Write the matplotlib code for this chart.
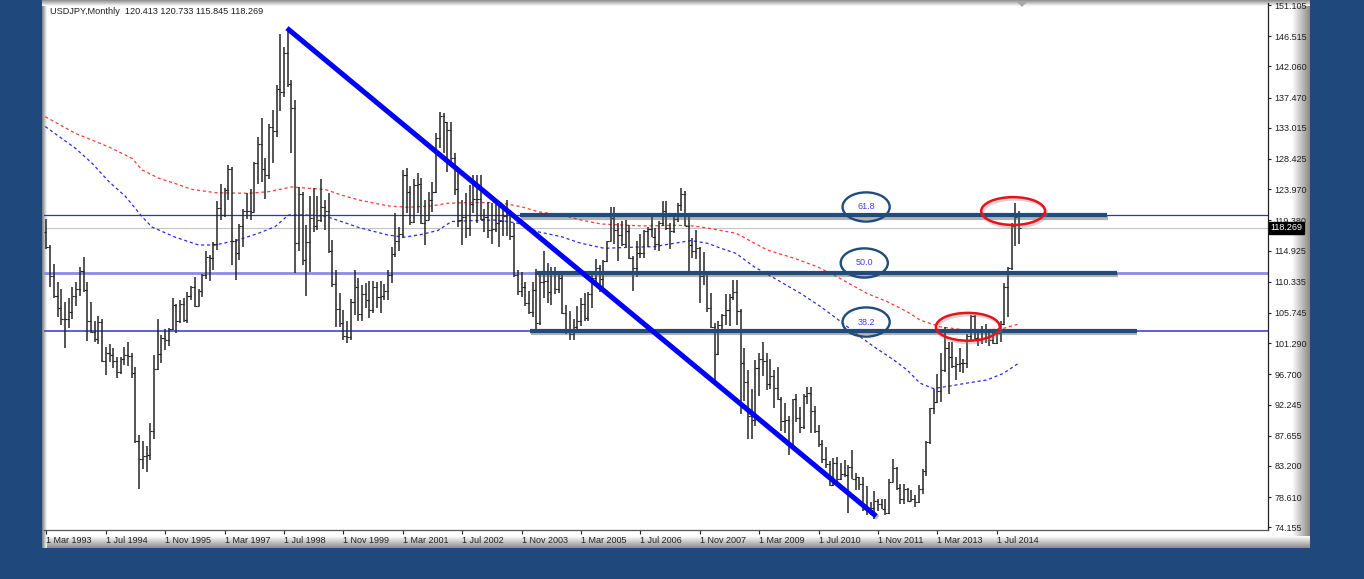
import numpy as np
import matplotlib
matplotlib.use('Agg')
import matplotlib.pyplot as plt
import matplotlib.colors as mcolors
import matplotlib.patheffects as pe
from matplotlib.patches import Ellipse, Rectangle, Polygon
from matplotlib.transforms import blended_transform_factory, offset_copy

plt.rcParams['font.family'] = ['Liberation Sans', 'DejaVu Sans']

# ---------------- DATA (USDJPY monthly, Mar 1993 .. Jan 2015) ----------------
opens = [
    117.6, 115.4, 111.2, 108.3, 106.5, 104.8, 104.8, 105.9, 108.3, 109.2,                # 1993 Mar-Dec
    111.9, 109.1, 104.6, 102.9, 101.9, 104.4, 98.6, 99.9, 99.6, 98.6, 97.0, 98.9,         # 1994
    99.6, 99.4, 96.9, 86.9, 84.2, 84.6, 84.8, 88.4, 97.5, 99.7, 102.0, 101.8,             # 1995
    103.3, 106.9, 104.6, 107.1, 104.7, 108.3, 109.5, 106.8, 108.9, 111.4, 114.0, 113.9,   # 1996
    115.9, 121.2, 120.2, 123.9, 127.0, 116.3, 114.6, 118.5, 120.8, 120.7, 120.6, 127.9,   # 1997
    130.6, 127.0, 126.1, 133.2, 132.6, 138.7, 138.3, 144.0, 139.5, 135.9, 116.0, 123.3,   # 1998
    113.6, 116.2, 119.7, 118.5, 119.4, 121.4, 120.8, 114.8, 110.0, 106.3, 104.3, 102.3,   # 1999
    102.2, 107.3, 109.6, 105.6, 108.5, 107.7, 106.1, 109.5, 108.1, 108.2, 108.9, 111.3,   # 2000
    114.4, 116.4, 117.4, 126.0, 123.6, 119.2, 124.6, 124.8, 119.0, 119.4, 122.4, 123.5,   # 2001
    131.5, 134.7, 133.8, 132.7, 128.5, 124.0, 119.5, 119.8, 118.3, 121.8, 122.5, 122.5,   # 2002
    119.6, 119.9, 118.0, 118.1, 119.0, 119.3, 120.0, 120.4, 117.0, 111.4, 109.0, 109.6,   # 2003
    107.2, 105.9, 109.1, 104.2, 110.3, 110.4, 108.8, 111.6, 109.2, 110.9, 105.8, 103.1,   # 2004
    102.6, 103.6, 104.5, 107.1, 105.0, 108.5, 110.9, 112.3, 110.8, 113.4, 116.4, 119.7,   # 2005
    117.9, 117.2, 115.9, 117.8, 113.9, 112.4, 114.6, 114.6, 117.8, 118.1, 116.9, 115.9,   # 2006
    119.0, 120.7, 118.3, 117.8, 119.6, 121.7, 123.2, 118.6, 115.8, 114.9, 115.3, 111.2,   # 2007
    111.7, 106.4, 103.7, 99.7, 104.0, 105.5, 106.2, 108.1, 108.8, 106.0, 98.4, 95.5,      # 2008
    90.6, 89.9, 97.6, 98.9, 98.6, 95.3, 96.4, 94.7, 93.0, 89.8, 90.0, 86.3,               # 2009
    93.0, 90.3, 88.9, 93.5, 94.0, 91.3, 88.4, 86.5, 84.2, 83.5, 80.4, 83.7,               # 2010
    81.2, 82.0, 81.8, 83.1, 81.2, 81.5, 80.5, 76.8, 76.7, 77.0, 78.1, 77.6,               # 2011
    76.9, 76.3, 80.9, 82.9, 80.0, 78.3, 79.8, 78.1, 78.4, 77.9, 79.8, 82.5,               # 2012
    86.7, 91.7, 92.6, 94.2, 97.4, 100.5, 99.2, 97.9, 98.2, 98.3, 98.4, 102.4,             # 2013
    105.3, 102.0, 101.8, 103.2, 102.2, 101.8, 101.3, 102.8, 104.1, 109.6, 112.3, 118.6,   # 2014
    120.413,                                                                              # 2015 Jan
]
highs = [
    119.6, 115.8, 112.9, 110.3, 109.2, 107.4, 108.0, 109.6, 110.3, 112.5,
    114.0, 110.3, 107.4, 104.5, 105.3, 104.9, 100.7, 101.2, 100.5, 99.2, 99.2, 100.7,
    101.5, 99.8, 97.8, 87.8, 86.8, 86.2, 89.5, 99.6, 104.8, 102.5, 103.3, 103.5,
    107.9, 107.0, 107.6, 107.9, 108.8, 109.7, 111.1, 109.2, 111.5, 114.9, 114.3, 116.2,
    122.2, 124.7, 124.2, 127.5, 127.2, 116.7, 118.8, 121.0, 123.4, 124.0, 128.0, 131.6,
    134.5, 128.6, 133.6, 135.6, 139.3, 146.8, 144.9, 147.7, 140.1, 137.1, 124.3, 123.6,
    118.7, 122.9, 124.2, 122.9, 125.4, 122.4, 123.4, 116.5, 112.1, 108.7, 106.2, 104.5,
    107.8, 112.0, 110.9, 109.8, 110.2, 110.5, 110.5, 110.3, 110.5, 110.0, 112.0, 115.5,
    120.5, 118.4, 126.8, 127.1, 124.4, 125.4, 126.4, 125.6, 122.4, 123.6, 125.1, 132.3,
    135.4, 135.2, 133.9, 133.9, 129.3, 127.3, 122.4, 123.4, 124.6, 126.1, 126.1, 126.1,
    121.0, 122.1, 121.9, 121.9, 121.5, 120.9, 122.4, 120.9, 119.0, 112.1, 111.8, 110.3,
    108.9, 110.3, 112.2, 111.8, 114.9, 113.1, 112.5, 112.5, 111.7, 111.8, 106.9, 106.0,
    104.9, 106.7, 107.9, 108.7, 108.8, 111.3, 113.7, 112.8, 113.6, 116.4, 121.4, 121.4,
    119.0, 119.3, 119.5, 118.7, 114.2, 116.4, 117.4, 118.0, 118.4, 119.9, 118.3, 119.3,
    122.2, 122.2, 119.0, 120.0, 122.0, 124.1, 123.7, 119.8, 116.8, 117.9, 115.4, 114.7,
    111.9, 108.7, 104.2, 104.6, 105.6, 108.6, 108.6, 110.6, 110.6, 106.3, 100.5, 97.3,
    94.6, 98.8, 99.8, 101.4, 99.8, 98.9, 97.3, 97.8, 93.4, 92.4, 90.5, 93.1,
    93.8, 91.9, 93.8, 94.8, 94.9, 92.0, 89.2, 87.0, 86.0, 83.9, 84.4, 84.5,
    83.7, 84.0, 83.3, 85.5, 82.2, 81.6, 81.5, 80.2, 77.9, 79.5, 78.3, 78.3,
    78.3, 81.2, 84.2, 83.0, 80.5, 80.6, 80.0, 79.6, 78.9, 80.4, 82.8, 86.8,
    91.8, 94.5, 96.7, 99.9, 103.7, 101.5, 101.5, 99.2, 100.6, 99.0, 102.6, 105.4,
    105.4, 103.0, 103.8, 104.1, 103.0, 102.8, 103.1, 104.5, 110.1, 112.5, 119.0, 121.9,
    120.733,
]
lows = [
    115.1, 109.6, 108.0, 105.2, 104.0, 100.5, 103.5, 104.9, 106.7, 108.3,
    108.8, 101.6, 102.8, 101.4, 101.2, 98.5, 96.6, 98.5, 97.6, 96.2, 96.8, 98.1,
    97.9, 96.2, 86.6, 79.8, 82.7, 82.3, 84.0, 87.2, 97.3, 98.4, 100.3, 100.8,
    103.2, 102.8, 104.2, 104.4, 104.2, 107.7, 106.6, 106.8, 108.1, 110.8, 110.5, 112.1,
    115.0, 119.4, 119.8, 122.4, 112.8, 110.6, 113.5, 115.5, 119.6, 119.5, 120.6, 124.8,
    125.1, 122.5, 125.5, 127.8, 131.7, 135.5, 137.5, 139.0, 129.3, 111.6, 114.8, 112.8,
    108.3, 111.8, 117.6, 118.0, 119.2, 118.0, 114.6, 109.6, 103.7, 103.7, 101.7, 101.3,
    101.8, 105.5, 104.5, 104.6, 106.5, 105.0, 105.8, 106.5, 105.8, 107.6, 107.6, 110.2,
    114.0, 114.8, 116.8, 120.5, 118.7, 119.0, 120.5, 118.9, 115.8, 119.4, 120.6, 123.4,
    130.0, 129.3, 126.5, 127.3, 123.1, 118.4, 115.8, 116.8, 117.0, 120.5, 119.0, 119.5,
    117.7, 116.8, 115.9, 117.6, 115.5, 117.0, 117.0, 116.5, 111.1, 108.4, 108.1, 106.8,
    105.6, 105.2, 103.4, 103.9, 108.0, 107.2, 106.9, 108.5, 108.7, 105.6, 102.6, 101.8,
    101.7, 103.3, 103.8, 104.6, 104.5, 106.5, 110.0, 108.8, 109.1, 113.3, 116.3, 115.9,
    113.4, 115.6, 115.5, 113.7, 108.9, 111.0, 113.8, 113.9, 115.4, 116.9, 115.0, 114.8,
    118.5, 118.0, 115.2, 117.5, 119.2, 120.7, 118.5, 111.6, 113.8, 113.7, 107.2, 109.9,
    105.9, 103.5, 95.8, 99.5, 102.8, 103.9, 103.8, 107.7, 104.0, 90.9, 92.7, 87.1,
    87.1, 89.1, 93.5, 96.5, 94.4, 94.5, 91.7, 92.9, 88.3, 88.0, 84.8, 86.3,
    89.7, 88.1, 88.6, 92.3, 88.0, 88.1, 86.0, 83.6, 82.9, 80.3, 80.2, 80.9,
    81.1, 81.5, 76.3, 81.3, 79.6, 79.7, 76.6, 75.9, 75.9, 75.4, 76.6, 76.9,
    76.0, 76.1, 80.9, 79.6, 77.6, 77.6, 77.9, 78.0, 77.1, 77.8, 79.0, 81.7,
    86.5, 90.9, 92.5, 92.6, 97.0, 93.8, 97.6, 95.8, 97.0, 96.9, 97.6, 101.6,
    101.8, 100.8, 101.2, 101.3, 100.8, 101.1, 101.1, 101.5, 104.0, 105.2, 112.0, 115.6,
    115.845,
]
closes = [
    115.4, 111.2, 108.3, 106.5, 104.8, 104.8, 105.9, 108.3, 109.2, 111.9,
    109.1, 104.6, 102.9, 101.9, 104.4, 98.6, 99.9, 99.6, 98.6, 97.0, 98.9, 99.6,
    99.4, 96.9, 86.9, 84.2, 84.6, 84.8, 88.4, 97.5, 99.7, 102.0, 101.8, 103.3,
    106.9, 104.6, 107.1, 104.7, 108.3, 109.5, 106.8, 108.9, 111.4, 114.0, 113.9, 115.9,
    121.2, 120.2, 123.9, 127.0, 116.3, 114.6, 118.5, 120.8, 120.7, 120.6, 127.9, 130.6,
    127.0, 126.1, 133.2, 132.6, 138.7, 138.3, 144.0, 139.5, 135.9, 116.0, 123.3, 113.6,
    116.2, 119.7, 118.5, 119.4, 121.4, 120.8, 114.8, 110.0, 106.3, 104.3, 102.3, 102.2,
    107.3, 109.6, 105.6, 108.5, 107.7, 106.1, 109.5, 108.1, 108.2, 108.9, 111.3, 114.4,
    116.4, 117.4, 126.0, 123.6, 119.2, 124.6, 124.8, 119.0, 119.4, 122.4, 123.5, 131.5,
    134.7, 133.8, 132.7, 128.5, 124.0, 119.5, 119.8, 118.3, 121.8, 122.5, 122.5, 119.6,
    119.9, 118.0, 118.1, 119.0, 119.3, 120.0, 120.4, 117.0, 111.4, 109.0, 109.6, 107.2,
    105.9, 109.1, 104.2, 110.3, 110.4, 108.8, 111.6, 109.2, 110.9, 105.8, 103.1, 102.6,
    103.6, 104.5, 107.1, 105.0, 108.5, 110.9, 112.3, 110.8, 113.4, 116.4, 119.7, 117.9,
    117.2, 115.9, 117.8, 113.9, 112.4, 114.6, 114.6, 117.8, 118.1, 116.9, 115.9, 119.0,
    120.7, 118.3, 117.8, 119.6, 121.7, 123.2, 118.6, 115.8, 114.9, 115.3, 111.2, 111.7,
    106.4, 103.7, 99.7, 104.0, 105.5, 106.2, 108.1, 108.8, 106.0, 98.4, 95.5, 90.6,
    89.9, 97.6, 98.9, 98.6, 95.3, 96.4, 94.7, 93.0, 89.8, 90.0, 86.3, 93.0,
    90.3, 88.9, 93.5, 94.0, 91.3, 88.4, 86.5, 84.2, 83.5, 80.4, 83.7, 81.2,
    82.0, 81.8, 83.1, 81.2, 81.5, 80.5, 76.8, 76.7, 77.0, 78.1, 77.6, 76.9,
    76.3, 80.9, 82.9, 80.0, 78.3, 79.8, 78.1, 78.4, 77.9, 79.8, 82.5, 86.7,
    91.7, 92.6, 94.2, 97.4, 100.5, 99.2, 97.9, 98.2, 98.3, 98.4, 102.4, 105.3,
    102.0, 101.8, 103.2, 102.2, 101.8, 101.3, 102.8, 104.1, 109.6, 112.3, 118.6, 119.8,
    118.269,
]

# Moving averages (month index, price)
red_ma_idx = [-0.3, 7.8, 16.8, 23.1, 25.8, 30.2, 34.7, 39.2, 45.5, 54.4, 59.8, 66.1, 70.5, 75.0,
              79.5, 84.0, 92.1, 97.4, 103.7, 108.2, 114.5, 121.6, 127.9, 132.4, 138.7, 144.0,
              149.4, 156.6, 161.0, 169.1, 174.5, 179.0, 185.8, 194.2, 201.4, 207.6, 212.2,
              221.1, 226.5, 231.9, 235.3, 240.7, 247.9, 253.3, 257.8, 261.8]
red_ma_val = [134.65, 132.2, 130.2, 128.5, 126.8, 125.6, 124.8, 123.95, 123.45, 123.36, 123.6,
              124.3, 124.1, 123.95, 123.1, 122.4, 121.5, 121.3, 121.5, 121.9, 122.0, 122.0,
              121.4, 120.65, 120.17, 119.43, 118.84, 118.65, 118.55, 118.65, 118.55, 118.15,
              117.47, 115.0, 113.8, 112.55, 111.3, 108.6, 107.4, 105.9, 104.7, 103.7, 103.2,
              103.2, 103.47, 104.1]
blue_ma_idx = [-0.3, 7.8, 12.3, 16.8, 21.3, 25.8, 28.4, 34.7, 41.0, 45.5, 51.7, 57.1, 61.6, 65.2,
               69.7, 75.0, 79.5, 84.0, 92.1, 96.5, 101.0, 105.5, 109.1, 114.5, 121.6, 127.0,
               132.4, 138.7, 144.0, 150.3, 156.6, 163.7, 169.1, 173.6, 178.1, 181.7, 185.8,
               190.6, 196.9, 203.2, 208.6, 214.0, 219.3, 222.9, 228.3, 231.9, 235.3, 238.9,
               243.4, 247.9, 253.3, 257.8, 261.8]
blue_ma_val = [133.2, 130.0, 127.8, 125.1, 122.9, 119.9, 118.4, 116.9, 115.75, 115.75, 116.5,
               117.47, 118.45, 120.17, 120.17, 120.02, 119.2, 118.35, 117.2, 116.9, 117.3, 117.9,
               119.2, 119.33, 119.43, 118.95, 117.7, 116.97, 116.0, 115.26, 115.4, 115.5, 116.0,
               116.4, 116.0, 115.26, 114.5, 112.55, 110.6, 108.6, 106.65, 104.45, 102.2, 100.76,
               98.8, 97.3, 95.4, 94.6, 94.97, 95.4, 95.86, 96.84, 98.3]

xtick_idx = [0, 16, 32, 48, 64, 80, 96, 112, 128, 144, 160, 176, 192, 208, 224, 240, 256]
xtick_labels = ['1 Mar 1993', '1 Jul 1994', '1 Nov 1995', '1 Mar 1997', '1 Jul 1998',
                '1 Nov 1999', '1 Mar 2001', '1 Jul 2002', '1 Nov 2003', '1 Mar 2005',
                '1 Jul 2006', '1 Nov 2007', '1 Mar 2009', '1 Jul 2010', '1 Nov 2011',
                '1 Mar 2013', '1 Jul 2014']
ytick_labels = ['151.105', '146.515', '142.060', '137.470', '133.015', '128.425', '123.970',
                '119.380', '114.925', '110.335', '105.745', '101.290', '96.700', '92.245',
                '87.655', '83.200', '78.610', '74.155']

# Fibonacci retracement (Aug 1998 high -> Oct 2011 low)
fib_high = 147.66
fib_low = 75.57
fib_levels = [0.382, 0.5, 0.618]
fib_texts = ['38.2', '50.0', '61.8']
fib_line_colors = ['#4646c8', '#8c8ce6', '#2e2ed2']
fib_line_widths = [1.2, 2.0, 0.9]
# Hand drawn annotation segments (start/end month index) for each fib level
seg_start = [130.3, 132.1, 127.6]
seg_end = [293.7, 288.4, 285.7]
label_idx = [220.8, 220.3, 220.8]
label_price = [104.4, 113.1, 121.35]

trend_idx = [64.8, 223.5]
trend_price = [147.7, 75.8]

red_ell_idx = [248.2, 260.4]
red_ell_price = [103.7, 120.75]

header = 'USDJPY,Monthly  120.413 120.733 115.845 118.269'
last_price = 118.269

# ---------------- FIGURE ----------------
W, H = 1364, 579
fig = plt.figure(figsize=(W / 100, H / 100), dpi=100)
BG = '#1f497d'
fig.patch.set_facecolor(BG)

bg = fig.add_axes([0, 0, 1, 1])
bg.set_axis_off()
bg.set_zorder(0)


def grad(x0, x1, y0, y1, c0, c1, horizontal=True, z=2):
    t = np.linspace(0, 1, 64)
    a = np.array(mcolors.to_rgb(c0))
    b = np.array(mcolors.to_rgb(c1))
    arr = a + (b - a) * t[:, None]
    img = arr[None, :, :] if horizontal else arr[:, None, :]
    bg.imshow(img, extent=(x0, x1, y1, y0), aspect='auto', interpolation='bilinear', zorder=z)


bg.add_patch(Rectangle((0, 0), W, H, fc=BG, ec='none', zorder=0))
bg.add_patch(Rectangle((42, 0), 1268, 548, fc='white', ec='none', zorder=1))
grad(1292, 1310, 0, 548, '#ffffff', '#8a8a8a', True)      # right bevel
grad(42, 1310, 536, 548, '#ffffff', '#8a8a8a', False)     # bottom bevel
grad(42, 47, 0, 548, '#7a7a7a', '#ffffff', True)          # left bevel
grad(42, 1310, 0, 6, '#8a8a8a', '#ffffff', False)         # top bevel
bg.add_patch(Polygon([[1017, 2], [1027, 2], [1022, 7]], closed=True, fc='#a8a8a8', ec='none', zorder=3))
bg.set_xlim(0, W)
bg.set_ylim(H, 0)

# chart axes
ax = fig.add_axes([44 / W, (H - 530) / H, (1268 - 44) / W, (530 - 3) / H])
ax.set_zorder(1)
ax.set_facecolor('none')
ax.set_xlim(-0.646, 329.05)
ax.set_ylim(73.76, 151.40)

for s in ['top', 'left']:
    ax.spines[s].set_visible(False)
ax.spines['bottom'].set_color('#555555')
ax.spines['bottom'].set_linewidth(0.9)
ax.spines['right'].set_color('#222222')
ax.spines['right'].set_linewidth(0.9)

ax.yaxis.tick_right()
ax.set_yticks([float(v) for v in ytick_labels])
ax.set_yticklabels(ytick_labels)
ax.tick_params(axis='y', direction='out', length=2.5, width=0.8, pad=2, labelsize=6.5,
               colors='#202020')
ax.set_xticks(xtick_idx)
ax.set_xticklabels(xtick_labels)
ax.tick_params(axis='x', direction='out', length=3, width=0.8, pad=1.5, labelsize=6.5,
               colors='#202020')
for lbl in ax.get_xticklabels():
    lbl.set_horizontalalignment('left')

months = np.arange(len(closes))

# fibonacci full-width lines
for lv, col, lw in zip(fib_levels, fib_line_colors, fib_line_widths):
    ax.axhline(fib_low + lv * (fib_high - fib_low), color=col, lw=lw, zorder=1)
# last price line
ax.axhline(last_price, color='#c4c4c4', lw=0.8, zorder=1)

# moving averages
ax.plot(red_ma_idx, red_ma_val, color='#ff3b3b', lw=0.9, ls=(0, (2.5, 2.2)), zorder=2)
ax.plot(blue_ma_idx, blue_ma_val, color='#2d2de0', lw=0.9, ls=(0, (2.5, 2.2)), zorder=2)

# OHLC bars
BAR = '#262626'
ax.vlines(months, lows, highs, color=BAR, lw=1.1, zorder=3)
ax.hlines(opens, months - 0.55, months, color=BAR, lw=0.8, zorder=3)
ax.hlines(closes, months, months + 0.55, color=BAR, lw=0.8, zorder=3)

# thick annotation lines
NAVY = '#214b7b'
shadow = [pe.SimpleLineShadow(offset=(0.5, -1.6), shadow_color='#555555', alpha=0.45), pe.Normal()]
for lv, x0, x1 in zip(fib_levels, seg_start, seg_end):
    p = fib_low + lv * (fib_high - fib_low)
    ax.plot([x0, x1], [p, p], color=NAVY, lw=3.0, solid_capstyle='butt', zorder=5,
            path_effects=shadow)

# trend line
ax.plot(trend_idx, trend_price, color='#0000ff', lw=3.6, solid_capstyle='butt', zorder=6,
        path_effects=[pe.SimpleLineShadow(offset=(1.2, -1.2), shadow_color='#444444', alpha=0.35),
                      pe.Normal()])

# fib label ellipses
for cx, cy, t in zip(label_idx, label_price, fib_texts):
    e = Ellipse((cx, cy), 12.7, 4.3, fill=False, ec=NAVY, lw=1.7, zorder=7)
    ax.add_patch(e)
    ax.text(cx, cy, t, ha='center', va='center', fontsize=6.5, color='#4a3cf0', zorder=8)

# red ellipses (with a soft unfilled shadow)
shadow_tr = offset_copy(ax.transData, fig=fig, x=1.0, y=-1.5, units='points')
for cx, cy in zip(red_ell_idx, red_ell_price):
    sh = Ellipse((cx, cy), 17.2, 4.1, fill=False, ec='#888888', lw=2.2, alpha=0.35,
                 zorder=6.5, transform=shadow_tr)
    ax.add_patch(sh)
    e = Ellipse((cx, cy), 17.2, 4.1, fill=False, ec='#e8121a', lw=1.8, zorder=7)
    ax.add_patch(e)

# header text
ax.text(6 / 1224, 1 - 8 / 527, header, transform=ax.transAxes, ha='left', va='center',
        fontsize=6.6, color='#202020', zorder=9)

# last price box
tr = blended_transform_factory(ax.transAxes, ax.transData)
ax.text(1.0 + 2.5 / 1224, last_price, '118.269', transform=tr, ha='left', va='center',
        fontsize=6.5, color='white', zorder=10, clip_on=False,
        bbox=dict(boxstyle='square,pad=0.15', fc='black', ec='black'))

fig.savefig('out.png', dpi=100, facecolor=BG)
